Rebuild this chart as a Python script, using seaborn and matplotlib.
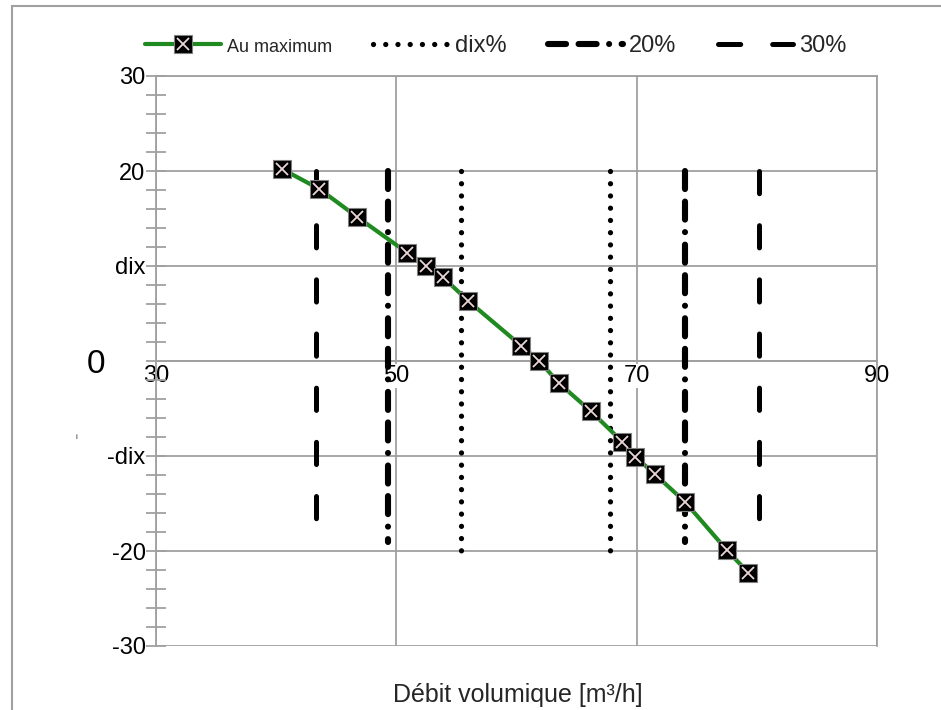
import numpy as np
import pandas as pd
import seaborn as sns
import matplotlib
matplotlib.use("Agg")
import matplotlib.pyplot as plt
from matplotlib.lines import Line2D
from matplotlib.patches import Rectangle
from matplotlib.ticker import FixedLocator, MultipleLocator
import matplotlib.transforms as mtransforms

sns.set_theme(style="white")
plt.rcParams["font.family"] = ["Liberation Sans", "DejaVu Sans"]
plt.rcParams["lines.scale_dashes"] = False

# ---- data ----
flow = [40.5, 43.6, 46.7, 50.9, 52.5, 53.9, 56.0, 60.4, 61.9, 63.5,
        66.2, 68.8, 69.9, 71.5, 74.0, 77.5, 79.3]
pressure = [20.2, 18.1, 15.2, 11.4, 10.0, 8.8, 6.3, 1.6, 0.0, -2.3,
            -5.3, -8.5, -10.1, -11.9, -14.8, -19.9, -22.3]

dix_x = [55.4, 67.8]
dix_y = [20, -20]
p20_x = [49.3, 74.0]
p20_y = [20, -19]
p30_x = [43.3, 80.2]
p30_y = [20, -18]

series_labels = ["Au maximum", "dix%", "20%", "30%"]
xticks = [30, 50, 70, 90]
xtick_labels = ["30", "50", "70", "90"]
yticks = [-30, -20, -10, 0, 10, 20, 30]
ytick_labels = ["-30", "-20", "-dix", "0", "dix", "20", "30"]
xlabel = "Débit volumique [m³/h]"

# ---- styles ----
GRID = "#a0a0a0"
GREEN = "#1f8a1f"
dot_style = dict(color="black", lw=3.8, linestyle=(0, (0.01, 8.8)), dash_capstyle="round")
s20_style = dict(color="black", lw=4.4, linestyle=(0, (13, 9, 13, 9, 0.01, 9)), dash_capstyle="round")
s30_style = dict(color="black", lw=3.6, linestyle=(0, (16, 23)), dash_capstyle="round")

W, H = 941, 710
fig = plt.figure(figsize=(W / 100, H / 100), dpi=100)
ax = fig.add_axes([156 / W, 1 - 646 / H, (877 - 156) / W, (646 - 76) / H])

ax.set_xlim(30, 90)
ax.set_ylim(-30, 30)

# vertical reference lines
for xv in dix_x:
    ax.plot([xv, xv], dix_y, **dot_style, zorder=3)
for xv in p20_x:
    ax.plot([xv, xv], p20_y, **s20_style, zorder=3)
for xv in p30_x:
    ax.plot([xv, xv], p30_y, **s30_style, zorder=3)

df = pd.DataFrame({"flow": flow, "pressure": pressure})
sns.lineplot(data=df, x="flow", y="pressure", ax=ax, sort=False, legend=False,
             color=GREEN, lw=3.0, marker="s", markersize=12.5,
             markerfacecolor="black", markeredgecolor="#808080",
             markeredgewidth=0.8, zorder=4)
ax.plot(flow, pressure, ls="none", marker="x", ms=9, mec="#ead6d6", mew=1.3, zorder=5)

# grid and spines
ax.xaxis.set_major_locator(FixedLocator(xticks))
ax.yaxis.set_major_locator(FixedLocator(yticks))
ax.yaxis.set_minor_locator(MultipleLocator(2))
ax.grid(True, which="major", color=GRID, lw=1.3)
ax.set_axisbelow(True)
for side in ["left", "right", "top", "bottom"]:
    ax.spines[side].set_color(GRID)
    ax.spines[side].set_linewidth(1.3)
ax.spines["bottom"].set_position(("data", 0))

ax.set_xticks(xticks)
ax.set_xticklabels(xtick_labels)
ax.set_yticks(yticks)
ax.set_yticklabels(ytick_labels)
ax.tick_params(axis="x", length=0, pad=3, labelsize=17, colors="black")
ax.tick_params(axis="y", which="both", left=True, direction="inout", length=15, width=1.3,
               color=GRID, labelsize=17, labelcolor="black", pad=0)
for lab in ax.get_xticklabels():
    lab.set_bbox(dict(facecolor="white", edgecolor="none", pad=0.5))
for lab in ax.get_yticklabels():
    if lab.get_text() == "0":
        lab.set_fontsize(24)
        lab.set_transform(lab.get_transform() + mtransforms.ScaledTranslation(-0.40, 0, fig.dpi_scale_trans))
ax.set_xlabel("")
ax.set_ylabel("")

fig.text(518 / W, 1 - 695 / H, xlabel, ha="center", va="center", fontsize=18)
fig.text(76 / W, 1 - 438 / H, "i", ha="center", va="center", fontsize=6, color="#333333")

# legend
h_main = (Line2D([], [], color=GREEN, lw=3.0, marker="s", markersize=12.5,
                 markerfacecolor="black", markeredgecolor="#808080", markeredgewidth=0.8),
          Line2D([], [], ls="none", marker="x", ms=9, mec="#ead6d6", mew=1.3))
h_dix = Line2D([], [], **dot_style)
h_20 = Line2D([], [], **s20_style)
h_30 = Line2D([], [], **s30_style)
leg = fig.legend([h_main, h_dix, h_20, h_30], series_labels, loc="center",
                 bbox_to_anchor=(496 / W, 1 - 46 / H), ncol=4, frameon=False,
                 fontsize=17, handlelength=3.2, handletextpad=0.25, columnspacing=1.75)
leg.get_texts()[0].set_fontsize(13)

# figure frame (partially cut off at right/bottom)
fig.add_artist(Rectangle((12 / W, -0.2), 1.0, 1.2 - 6 / H, transform=fig.transFigure,
                         fill=False, edgecolor="#a0a0a0", lw=1.5))

fig.savefig("out.png", dpi=100)
